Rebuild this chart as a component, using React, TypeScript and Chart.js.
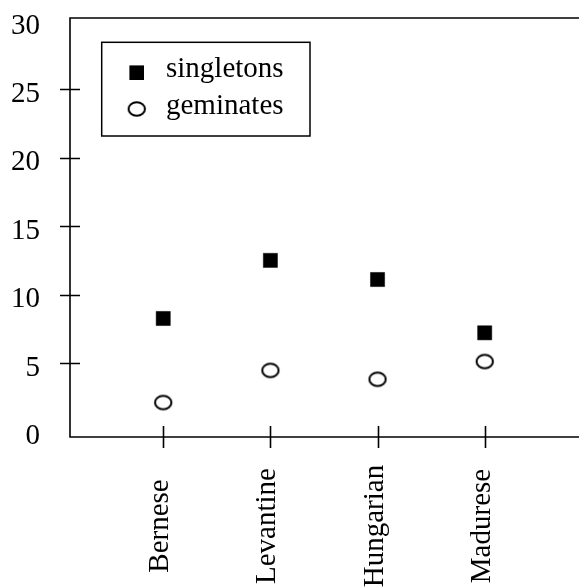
import React, { useEffect, useRef } from 'react';
import { Chart, registerables } from 'chart.js';

Chart.register(...registerables);

const categories = ['Bernese', 'Levantine', 'Hungarian', 'Madurese'];
const seriesNames = ['singletons', 'geminates'];
const singletons = [8.25, 12.5, 11.1, 7.2];
const geminates = [2.1, 4.45, 3.8, 5.1];
const yTicks = [0, 5, 10, 15, 20, 25, 30];

const FONT = '"Liberation Serif", "Times New Roman", serif';
const FSIZE = 29;

function makeEllipse(): HTMLCanvasElement {
  const c = document.createElement('canvas');
  c.width = 22;
  c.height = 18;
  const ctx = c.getContext('2d')!;
  ctx.lineWidth = 2;
  ctx.strokeStyle = '#000';
  ctx.beginPath();
  ctx.ellipse(11, 9, 8.2, 6.8, 0, 0, Math.PI * 2);
  ctx.stroke();
  return c;
}

function zeroPad(s: any) {
  s.paddingTop = 0;
  s.paddingBottom = 0;
  s.paddingLeft = 0;
  s.paddingRight = 0;
}

export default function App() {
  const ref = useRef<HTMLCanvasElement | null>(null);

  useEffect(() => {
    if (!ref.current) return;
    const ellipse = makeEllipse();

    const axesPlugin = {
      id: 'customAxes',
      afterDatasetsDraw(chart: any) {
        const { ctx, chartArea: a, scales } = chart;
        const x = scales.x;
        const y = scales.y;
        ctx.save();
        ctx.strokeStyle = '#000';
        ctx.lineWidth = 1.6;
        ctx.beginPath();
        ctx.moveTo(a.right + 5, a.top);
        ctx.lineTo(a.left, a.top);
        ctx.lineTo(a.left, a.bottom);
        ctx.lineTo(a.right + 5, a.bottom);
        ctx.stroke();

        // y tick marks crossing the axis
        ctx.beginPath();
        yTicks.forEach((v) => {
          if (v === yTicks[0] || v === yTicks[yTicks.length - 1]) return;
          const py = Math.round(y.getPixelForValue(v)) + 0.5;
          ctx.moveTo(a.left - 10, py);
          ctx.lineTo(a.left + 10, py);
        });
        // x tick marks crossing the axis
        categories.forEach((_, i) => {
          const px = Math.round(x.getPixelForValue(i + 1)) + 0.5;
          ctx.moveTo(px, a.bottom - 11);
          ctx.lineTo(px, a.bottom + 11);
        });
        ctx.stroke();

        // x labels, rotated and centred
        ctx.fillStyle = '#000';
        ctx.font = `${FSIZE}px ${FONT}`;
        ctx.textAlign = 'center';
        ctx.textBaseline = 'alphabetic';
        categories.forEach((c, i) => {
          const px = x.getPixelForValue(i + 1);
          ctx.save();
          ctx.translate(px, a.bottom + 89);
          ctx.rotate(-Math.PI / 2);
          ctx.fillText(c, 0, 5);
          ctx.restore();
        });

        // legend box
        const lx = a.left + 31.7;
        const ly = a.top + 24.3;
        ctx.lineWidth = 1.5;
        ctx.strokeRect(lx, ly, 208.3, 93.7);
        ctx.fillRect(lx + 35 - 7.3, ly + 30.4 - 7.3, 14.6, 14.6);
        ctx.drawImage(ellipse, lx + 35 - ellipse.width / 2, ly + 66.7 - ellipse.height / 2);
        ctx.textAlign = 'left';
        ctx.fillText(seriesNames[0], lx + 64.3, ly + 34.7);
        ctx.fillText(seriesNames[1], lx + 64.3, ly + 71.2);
        ctx.restore();
      },
    };

    const chart = new Chart(ref.current, {
      type: 'scatter',
      data: {
        datasets: [
          {
            label: seriesNames[0],
            data: singletons.map((v, i) => ({ x: i + 1, y: v })),
            pointStyle: 'rect',
            pointRadius: 10,
            backgroundColor: '#000',
            borderColor: '#000',
            borderWidth: 0.5,
          },
          {
            label: seriesNames[1],
            data: geminates.map((v, i) => ({ x: i + 1, y: v })),
            pointStyle: ellipse as any,
            pointRadius: 9,
            backgroundColor: 'rgba(0,0,0,0)',
            borderColor: '#000',
          },
        ],
      },
      options: {
        animation: false,
        responsive: false,
        layout: { autoPadding: false, padding: { top: 18, left: 0, right: 0, bottom: 0 } },
        plugins: { legend: { display: false }, tooltip: { enabled: false } },
        scales: {
          x: {
            type: 'linear',
            min: 0.13,
            max: 4.88,
            grid: { display: false },
            border: { display: false },
            ticks: { display: false },
            afterBuildTicks: (s: any) => {
              s.ticks = categories.map((_, i) => ({ value: i + 1 }));
            },
            afterFit: (s: any) => {
              s.height = 151;
              zeroPad(s);
            },
          },
          y: {
            min: -0.42,
            max: 30.23,
            grid: { display: false },
            border: { display: false },
            ticks: {
              color: '#000',
              font: { family: FONT, size: FSIZE },
              padding: 22,
              labelOffset: 5,
            },
            afterBuildTicks: (s: any) => {
              s.ticks = yTicks.map((v) => ({ value: v }));
            },
            afterFit: (s: any) => {
              s.width = 70;
              zeroPad(s);
            },
          },
        },
      },
      plugins: [axesPlugin],
    });
    return () => chart.destroy();
  }, []);

  return (
    <div style={{ position: 'fixed', left: 0, top: 0, width: 579, height: 588, background: '#fff' }}>
      <canvas ref={ref} width={579} height={588} />
    </div>
  );
}
